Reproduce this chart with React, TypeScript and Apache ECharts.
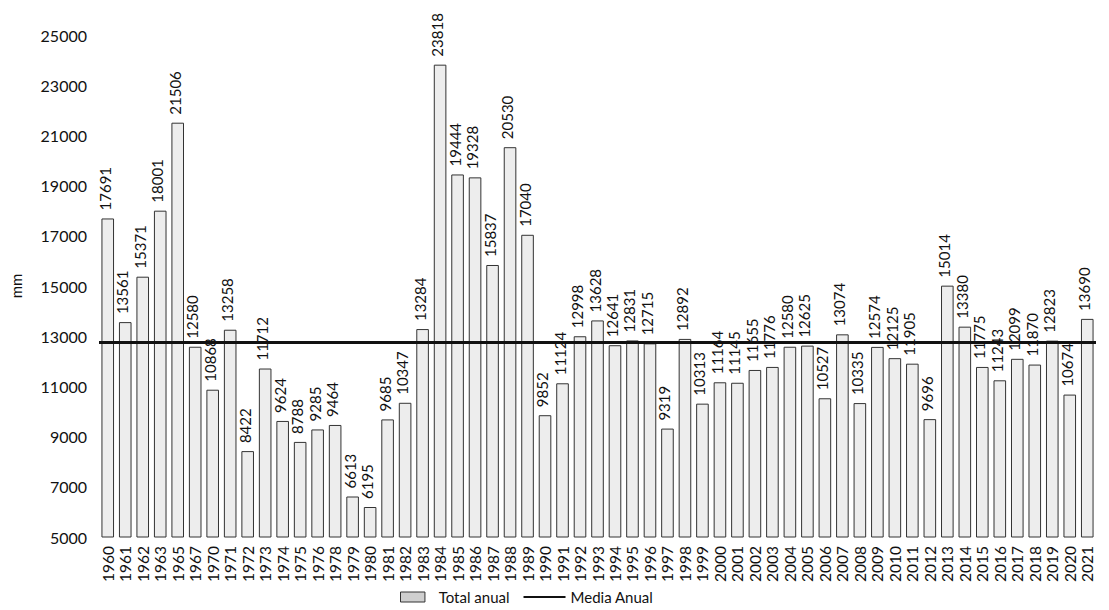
import React, { useEffect, useRef } from "react";
import * as echarts from "echarts";

const years = [
  "1960", "1961", "1962", "1963", "1965", "1967", "1970", "1971", "1972", "1973",
  "1974", "1975", "1976", "1978", "1979", "1980", "1981", "1982", "1983", "1984",
  "1985", "1986", "1987", "1988", "1989", "1990", "1991", "1992", "1993", "1994",
  "1995", "1996", "1997", "1998", "1999", "2000", "2001", "2002", "2003", "2004",
  "2005", "2006", "2007", "2008", "2009", "2010", "2011", "2012", "2013", "2014",
  "2015", "2016", "2017", "2018", "2019", "2020", "2021",
];

const totalAnual = [
  17691, 13561, 15371, 18001, 21506, 12580, 10868, 13258, 8422, 11712,
  9624, 8788, 9285, 9464, 6613, 6195, 9685, 10347, 13284, 23818,
  19444, 19328, 15837, 20530, 17040, 9852, 11124, 12998, 13628, 12641,
  12831, 12715, 9319, 12892, 10313, 11164, 11145, 11655, 11776, 12580,
  12625, 10527, 13074, 10335, 12574, 12125, 11905, 9696, 15014, 13380,
  11775, 11243, 12099, 11870, 12823, 10674, 13690,
];

const mediaAnual = 12750;

const yMin = 5000;
const yMax = 25000;
const yInterval = 2000;

const FONT = "Lato, 'Open Sans', sans-serif";

export default function App() {
  const ref = useRef<HTMLDivElement>(null);

  useEffect(() => {
    if (!ref.current) return;
    const chart = echarts.init(ref.current, undefined, { renderer: "svg" });
    chart.setOption({
      animation: false,
      backgroundColor: "#ffffff",
      textStyle: { fontFamily: FONT },
      grid: { left: 92, right: 13, top: 35, bottom: 73, containLabel: false },
      legend: {
        top: 588,
        left: 400,
        padding: 0,
        itemGap: 14,
        itemWidth: 42,
        itemHeight: 10,
        symbolKeepAspect: true,
        textStyle: { fontFamily: FONT, fontSize: 15, color: "#111", lineHeight: 18 },
        data: [
          {
            name: "Total anual",
            icon: "path://M0,0 L22,0 L22,9 L0,9 Z",
            itemStyle: { color: "#cfcfcf", borderColor: "#333", borderWidth: 1 },
          },
          {
            name: "Media Anual",
            icon: "path://M0,0 L42,0 L42,2 L0,2 Z",
            itemStyle: { color: "#111" },
          },
        ],
      },
      xAxis: {
        type: "category",
        data: years,
        axisLine: { show: false },
        axisTick: { show: false },
        axisLabel: {
          rotate: 90,
          interval: 0,
          margin: 9,
          fontSize: 15.5,
          color: "#111",
          fontFamily: FONT,
        },
      },
      yAxis: {
        type: "value",
        min: yMin,
        max: yMax,
        interval: yInterval,
        name: "mm",
        nameLocation: "middle",
        nameGap: 76,
        nameRotate: 90,
        nameTextStyle: { fontSize: 15, color: "#111", fontFamily: FONT },
        axisLine: { show: false },
        axisTick: { show: false },
        splitLine: { show: false },
        axisLabel: {
          fontSize: 16,
          color: "#111",
          margin: 12,
          fontFamily: FONT,
          formatter: (v: number) => String(v),
        },
      },
      series: [
        {
          name: "Total anual",
          type: "bar",
          data: totalAnual,
          barCategoryGap: "28%",
          itemStyle: {
            color: "#ededed",
            borderColor: "#333",
            borderWidth: 1,
          },
          label: {
            show: true,
            position: "top",
            rotate: 90,
            align: "left",
            verticalAlign: "middle",
            distance: 8,
            offset: [0, -3],
            fontSize: 15,
            color: "#111",
            fontFamily: FONT,
          },
        },
        {
          name: "Media Anual",
          type: "line",
          data: [],
          symbol: "none",
          lineStyle: { color: "#111", width: 3 },
          itemStyle: { color: "#111" },
          markLine: {
            silent: true,
            symbol: "none",
            label: { show: false },
            lineStyle: { color: "#111", width: 3, type: "solid" },
            data: [{ yAxis: mediaAnual }],
          },
        },
      ],
    });
    return () => chart.dispose();
  }, []);

  return (
    <div
      ref={ref}
      style={{ position: "fixed", left: 0, top: 0, width: 1109, height: 610 }}
    />
  );
}
